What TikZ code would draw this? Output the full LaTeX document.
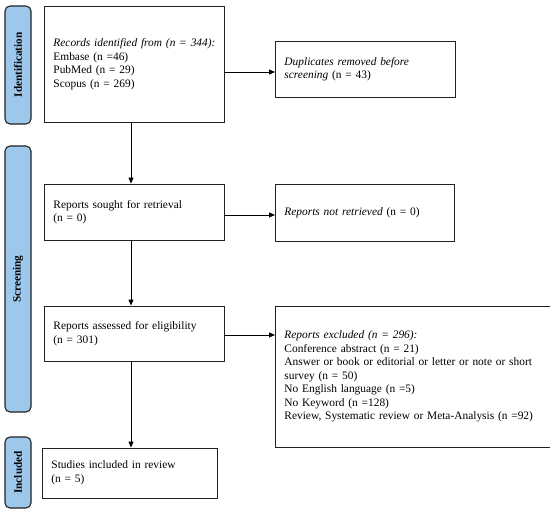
\documentclass[tikz,border=0pt]{standalone}
\usepackage{fontspec}
\setmainfont{Liberation Serif}
\usetikzlibrary{arrows.meta}
\definecolor{phase}{HTML}{9DC8EC}
\definecolor{edge}{HTML}{222222}
\tikzset{
  phasebox/.style={draw=edge, line width=1.1pt, fill=phase, rounded corners=5pt, minimum width=26pt, inner sep=0pt},
  phasetext/.style={font=\fontsize{11.2}{12}\selectfont\bfseries, rotate=90},
  flowbox/.style={draw=edge, line width=0.9pt, align=left, inner xsep=9pt, inner ysep=0pt, font=\fontsize{11.4}{13.5}\selectfont, anchor=west},
  flowarrow/.style={draw=black, line width=0.9pt, -{Triangle[length=6pt,width=5pt]}}
}
\begin{document}
\begin{tikzpicture}[x=1pt,y=-1pt]
\useasboundingbox (0,0) rectangle (550,514);
% phase labels
\node[phasebox, minimum height=118pt] (idp) at (18,65) {};
\node[phasetext] at (idp) {Identification};
\node[phasebox, minimum height=266pt] (scp) at (18,279) {};
\node[phasetext] at (scp) {Screening};
\node[phasebox, minimum height=71pt] (inp) at (18,472.5) {};
\node[phasetext] at (inp) {Included};
% left boxes
\node[flowbox, minimum width=180pt, minimum height=116pt, text width=162pt] (rec) at (44,64)
  {\textit{Records identified from (n = 344):}\\Embase (n =46)\\PubMed (n = 29)\\Scopus (n = 269)};
\node[flowbox, minimum width=180pt, minimum height=56pt, text width=162pt] (sought) at (44,212)
  {Reports sought for retrieval\\(n = 0)};
\node[flowbox, minimum width=180pt, minimum height=55pt, text width=162pt] (assess) at (44,333.5)
  {Reports assessed for eligibility\\(n = 301)};
\node[flowbox, minimum width=175pt, minimum height=50pt, text width=157pt] (incl) at (42,473)
  {Studies included in review\\(n = 5)};
% right boxes
\node[flowbox, minimum width=180pt, minimum height=56pt, text width=162pt] (dup) at (275,69)
  {\textit{Duplicates removed before}\\\textit{screening} (n = 43)};
\node[flowbox, minimum width=179pt, minimum height=57pt, text width=161pt] (notret) at (275,212.5)
  {\textit{Reports not retrieved} (n = 0)};
\node[flowbox, minimum width=272pt, minimum height=141pt, text width=258pt] (excl) at (275,376.5)
  {\textit{Reports excluded (n = 296):}\\Conference abstract (n = 21)\\Answer or book or editorial or letter or note or short\\survey (n = 50)\\No English language (n =5)\\No Keyword (n =128)\\Review, Systematic review or Meta-Analysis (n =92)};
% arrows
\draw[flowarrow] (rec.east |- 0,72) -- (dup.west |- 0,72);
\draw[flowarrow] (sought.east |- 0,215) -- (notret.west |- 0,215);
\draw[flowarrow] (assess.east |- 0,335) -- (excl.west |- 0,335);
\draw[flowarrow] (rec.south -| 131,0) -- (sought.north -| 131,0);
\draw[flowarrow] (sought.south -| 131,0) -- (assess.north -| 131,0);
\draw[flowarrow] (assess.south -| 131,0) -- (incl.north -| 131,0);
\end{tikzpicture}
\end{document}
